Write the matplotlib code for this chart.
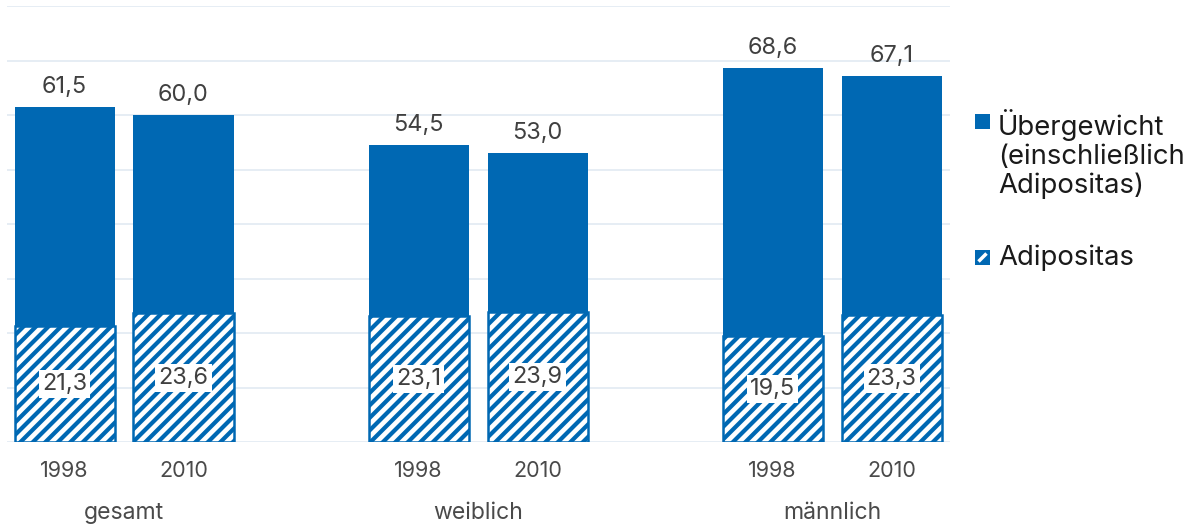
import matplotlib.pyplot as plt
from matplotlib.patches import Rectangle
from matplotlib.lines import Line2D
import numpy as np

# Übergewicht und Adipositas nach Geschlecht, 1998 und 2010
gruppen = ['gesamt', 'weiblich', 'männlich']
jahre = ['1998', '2010']
uebergewicht = [[61.5, 60.0], [54.5, 53.0], [68.6, 67.1]]
adipositas = [[21.3, 23.6], [23.1, 23.9], [19.5, 23.3]]

DPI = 75
def pt(px):
    # Pixel in Punkt umrechnen
    return px * 72 / DPI

blau = '#0068b3'
grau = '#404040'

plt.rcParams['font.family'] = ['Inter', 'DejaVu Sans']
plt.rcParams['hatch.linewidth'] = pt(4.2)
plt.rcParams['hatch.color'] = blau

fig = plt.figure(figsize=(1197 / DPI, 528 / DPI), dpi=DPI)
ax = fig.add_axes([7 / 1197, 86 / 528, 943 / 1197, 436 / 528])

breite = 0.2825
versatz = 0.168
x = np.arange(len(gruppen))

pos_alle = []
for j, jahr in enumerate(jahre):
    xs = x + (j * 2 - 1) * versatz
    pos_alle.extend(xs)
    ue = [u[j] for u in uebergewicht]
    ad = [a[j] for a in adipositas]
    ax.bar(xs, ue, width=breite, color=blau, zorder=2)
    ax.bar(xs, ad, width=breite, facecolor='white', edgecolor=blau,
           linewidth=pt(2.5), hatch='//', zorder=3)
    for xi, u, a in zip(xs, ue, ad):
        ax.annotate(f'{u:.1f}'.replace('.', ','), (xi, u), xytext=(0, pt(9)),
                    textcoords='offset points', ha='center', va='bottom',
                    fontsize=pt(23.5), color=grau)
        ax.text(xi, a / 2, f'{a:.1f}'.replace('.', ','), ha='center', va='center',
                fontsize=pt(23.5), color=grau, zorder=4,
                bbox=dict(facecolor='white', edgecolor='none', pad=pt(3)))

order = np.argsort(pos_alle)
ax.set_xticks(np.array(pos_alle)[order])
ax.set_xticklabels([jahre[i // len(gruppen)] for i in order],
                   fontsize=pt(21.5), color='#4a4a4a')
ax.tick_params(axis='x', length=0, pad=pt(19))
ax.tick_params(axis='y', left=False, labelleft=False)

for xi, g in zip(x, gruppen):
    ax.text(xi, -71 / 436, g, transform=ax.get_xaxis_transform(), ha='center',
            va='center', fontsize=pt(23), color='#4a4a4a')

ax.set_xlim(-0.3305, 2.333)
ax.set_ylim(0, 80)
ax.set_yticks(np.arange(0, 81, 10))
ax.grid(axis='y', color='#dfe8f1', linewidth=pt(1.5), zorder=0)
ax.set_axisbelow(True)
for s in ax.spines.values():
    s.set_visible(False)

# Legende
W, H = 1197, 528
fig.add_artist(Rectangle((975 / W, (H - 129) / H), 15 / W, 15 / H,
                         transform=fig.transFigure, facecolor=blau, edgecolor='none'))
fig.add_artist(Rectangle((975 / W, (H - 265) / H), 15 / W, 15 / H,
                         transform=fig.transFigure, facecolor=blau, edgecolor='none'))
fig.add_artist(Line2D([978.5 / W, 986.5 / W], [(H - 261.5) / H, (H - 253.5) / H],
                      transform=fig.transFigure, color='white', linewidth=pt(3.5),
                      solid_capstyle='butt'))
fig.text(998 / W, (H - 154) / H, 'Übergewicht\n(einschließlich\nAdipositas)',
         ha='left', va='center', fontsize=pt(27.5), color='#1a1a1a', linespacing=1.12)
fig.text(998 / W, (H - 258) / H, 'Adipositas', ha='left', va='center',
         fontsize=pt(27.5), color='#1a1a1a')

fig.savefig('out.png', dpi=DPI)
